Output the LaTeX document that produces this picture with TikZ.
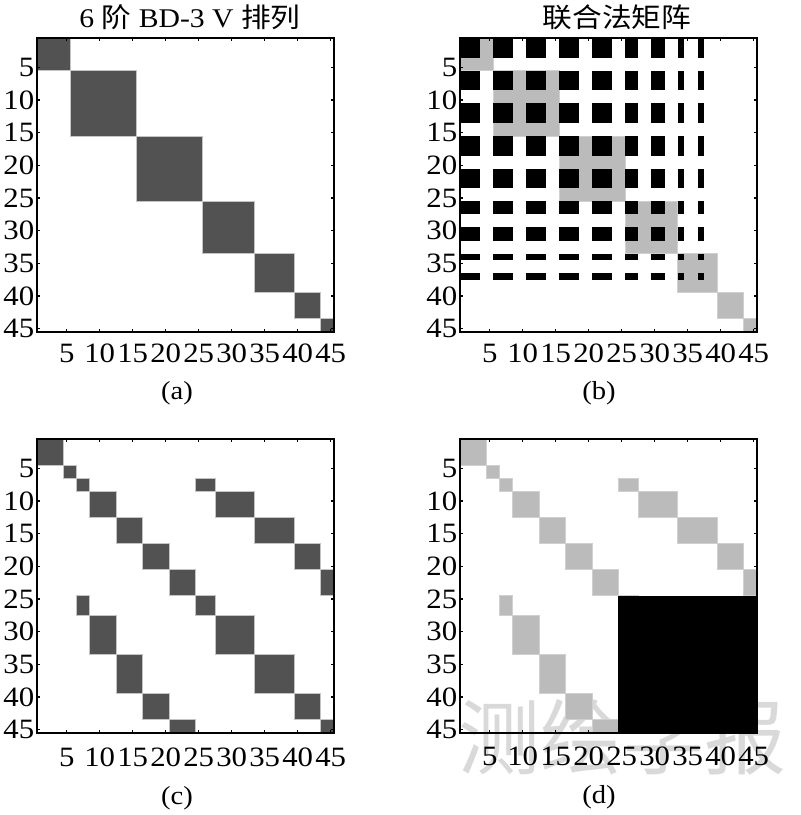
\documentclass[tikz,border=0pt]{standalone}
\usepackage{fontspec}
\setmainfont{Liberation Serif}[FakeStretch=1.1]
\newfontfamily\cjk{Noto Sans CJK SC}[FakeStretch=1.1]
\newfontfamily\wmfont{Noto Sans CJK SC}
\definecolor{darkblk}{HTML}{525252}
\definecolor{lightblk}{HTML}{BBBBBB}
\definecolor{edgegray}{HTML}{C4C4C4}
\definecolor{lightedge}{HTML}{D0D0D0}
\definecolor{wmgray}{HTML}{D9D9D9}
\newcommand{\matframe}[2]{%
  \draw[frame] (0,0) rectangle (45,45);
  \foreach \k in {5,10,...,45}{%
    \draw[tickmark] (\k-0.5,0) -- ++(0,-1.5pt);
    \draw[tickmark] (\k-0.5,45) -- ++(0,1.5pt);
    \draw[tickmark] (0,\k-0.5) -- ++(1.5pt,0);
    \draw[tickmark] (45,\k-0.5) -- ++(-1.5pt,0);
    \node[lab,anchor=east] (#1l\k) at ([xshift=-1.2pt]0,\k-0.5) {\k};
    \node[lab,anchor=base] (#1b\k) at ([yshift=-#2]\k-0.5,45) {\k};
  }%
}
\begin{document}
\begin{tikzpicture}[x=0.5pt,y=-0.5pt,
  frame/.style={draw=black,line width=1pt},
  tickmark/.style={draw=black,line width=0.6pt},
  lab/.style={inner sep=0pt,font=\fontsize{14}{14}\selectfont},
  ttl/.style={inner sep=0pt,font=\fontsize{13.5}{14}\selectfont},
  subcap/.style={inner sep=0pt,font=\fontsize{13}{13}\selectfont},
  wm/.style={inner sep=0pt,text=wmgray,font=\fontsize{41}{41}\selectfont\wmfont},
  dblk/.style={fill=darkblk,draw=edgegray,line width=0.5pt},
  lblk/.style={fill=lightblk,draw=lightedge,line width=0.5pt},
  bblk/.style={fill=black},
  cell/.style={x=3.3pt,y=-3.2667pt}]
\useasboundingbox (0,0) rectangle (800,815);
\fill[white] (0,0) rectangle (800,815);

% watermark (behind the plots)
\node[wm] (wmark) at (622,737) {测绘学报};

% ---------------- (a)
\begin{scope}[shift={(37,38)},cell]
  \foreach \pa/\pb in {1/5,6/15,16/25,26/33,34/39,40/43,44/45}
    \path[dblk] (\pa-1,\pa-1) rectangle (\pb,\pb);
  \matframe{a}{15pt}
\end{scope}

% ---------------- (b)
\begin{scope}[shift={(460,38)},cell]
  \foreach \pa/\pb in {1/5,6/15,16/25,26/33,34/39,40/43,44/45}
    \path[lblk] (\pa-1,\pa-1) rectangle (\pb,\pb);
  \foreach \ra/\rb in {1/3,6/8,11/13,16/18,21/23,26/27,30/31,34/34,37/37}
    \foreach \ca/\cb in {1/3,6/8,11/13,16/18,21/23,26/27,30/31,34/34,37/37}
      \path[bblk] (\ca-1,\ra-1) rectangle (\cb,\rb);
  \matframe{b}{15pt}
\end{scope}

% ---------------- (c)
\begin{scope}[shift={(37,439)},cell]
  \foreach \pa/\pb in {1/4,5/6,7/8,9/12,13/16,17/20,21/24,25/27,28/33,34/39,40/43,44/45}
    \path[dblk] (\pa-1,\pa-1) rectangle (\pb,\pb);
  \foreach \ra/\rb/\ca/\cb in {7/8/25/27,9/12/28/33,13/16/34/39,17/20/40/43,21/24/44/45}{
    \path[dblk] (\ca-1,\ra-1) rectangle (\cb,\rb);
    \path[dblk] (\ra-1,\ca-1) rectangle (\rb,\cb);
  }
  \matframe{c}{16.5pt}
\end{scope}

% ---------------- (d)
\begin{scope}[shift={(460,439)},cell]
  \foreach \pa/\pb in {1/4,5/6,7/8,9/12,13/16,17/20,21/24,25/27,28/33,34/39,40/43,44/45}
    \path[lblk] (\pa-1,\pa-1) rectangle (\pb,\pb);
  \foreach \ra/\rb/\ca/\cb in {7/8/25/27,9/12/28/33,13/16/34/39,17/20/40/43,21/24/44/45}{
    \path[lblk] (\ca-1,\ra-1) rectangle (\cb,\rb);
    \path[lblk] (\ra-1,\ca-1) rectangle (\rb,\cb);
  }
  \path[bblk] (24,24) rectangle (45,45);
  \matframe{d}{16pt}
\end{scope}

% titles and captions
\node[ttl] (ta) at (190,17) {6 {\cjk 阶} BD-3 V {\cjk 排列}};
\node[ttl] (tb) at (617,17) {\cjk 联合法矩阵};
\node[subcap] (capa) at (177,393) {(a)};
\node[subcap] (capb) at (599,393) {(b)};
\node[subcap] (capc) at (177,798) {(c)};
\node[subcap] (capd) at (599,797) {(d)};
\end{tikzpicture}
\end{document}
